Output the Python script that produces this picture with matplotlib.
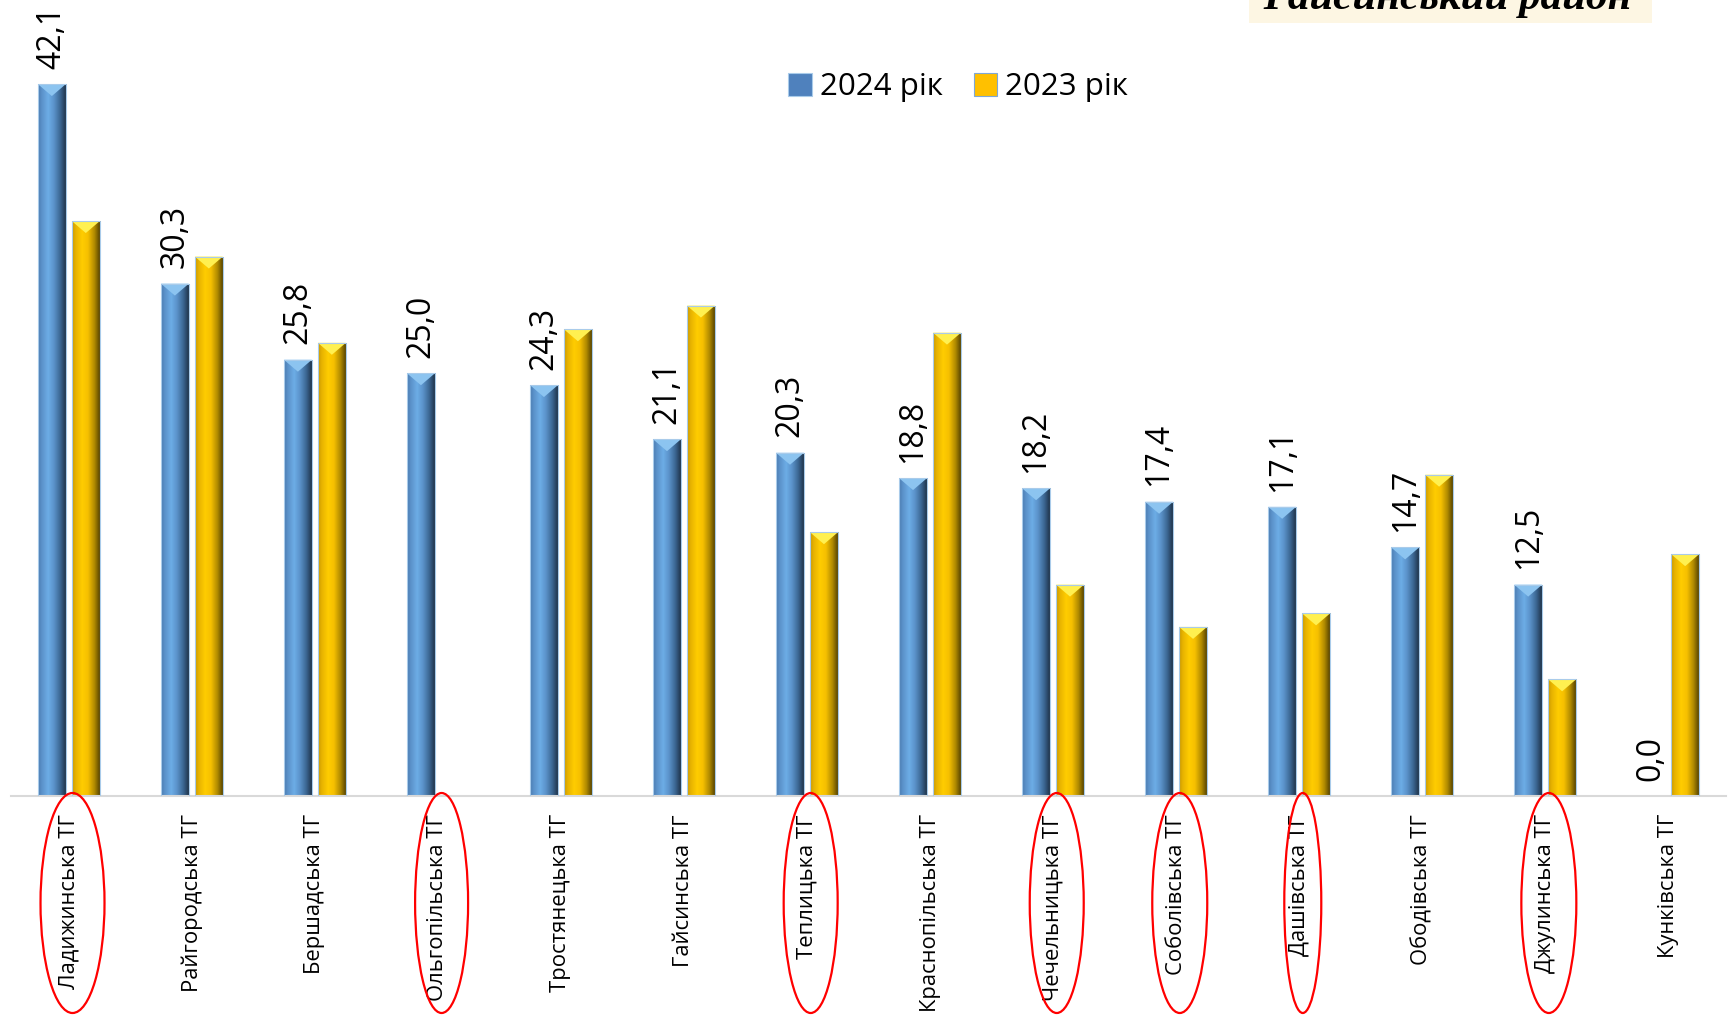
import numpy as np
import matplotlib
matplotlib.use("Agg")
import matplotlib.pyplot as plt
from matplotlib.patches import Ellipse, Polygon, Rectangle, Patch
from matplotlib.colors import to_rgb
from matplotlib.transforms import blended_transform_factory

plt.rcParams['font.family'] = ['Open Sans', 'DejaVu Sans']

# ---------------- data ----------------
categories = ["Ладижинська ТГ", "Райгородська ТГ", "Бершадська ТГ", "Ольгопільська ТГ",
              "Тростянецька ТГ", "Гайсинська ТГ", "Теплицька ТГ", "Краснопільська ТГ",
              "Чечельницька ТГ", "Соболівська ТГ", "Дашівська ТГ", "Ободівська ТГ",
              "Джулинська ТГ", "Кунківська ТГ"]
values_2024 = [42.1, 30.3, 25.8, 25.0, 24.3, 21.1, 20.3, 18.8, 18.2, 17.4, 17.1, 14.7, 12.5, 0.0]
values_2023 = [34.0, 31.9, 26.8, 0.0, 27.6, 29.0, 15.6, 27.4, 12.5, 10.0, 10.8, 19.0, 6.9, 14.3]
series_names = ["2024 рік", "2023 рік"]
circled = ["Ладижинська ТГ", "Ольгопільська ТГ", "Теплицька ТГ", "Чечельницька ТГ",
           "Соболівська ТГ", "Дашівська ТГ", "Джулинська ТГ"]
title_text = "Гайсинський район"

# ---------------- styles ----------------
W, H, DPI = 1729, 1021, 100
ellipse_width_px = {"Ладижинська ТГ": 64, "Ольгопільська ТГ": 53, "Теплицька ТГ": 54,
                    "Чечельницька ТГ": 54, "Соболівська ТГ": 55, "Дашівська ТГ": 37,
                    "Джулинська ТГ": 55}
blue_stops = [(0, '#4A7BB0'), (0.12, '#5A90C8'), (0.35, '#6DADE6'), (0.55, '#5B93CB'),
              (0.78, '#3A6590'), (0.92, '#26405C'), (1, '#1C2C3E')]
yellow_stops = [(0, '#C99700'), (0.12, '#E6B200'), (0.35, '#FFCC00'), (0.55, '#F6C000'),
                (0.78, '#B08A00'), (0.92, '#6E5600'), (1, '#4A3B05')]
blue_top = '#8CC4F0'
yellow_top = '#FFF050'


def gradient(stops, n=96):
    pos = np.array([s[0] for s in stops])
    cols = np.array([to_rgb(s[1]) for s in stops])
    xs = np.linspace(0, 1, n)
    arr = np.stack([np.interp(xs, pos, cols[:, k]) for k in range(3)], axis=-1)
    return arr[np.newaxis, :, :]


fig = plt.figure(figsize=(W / DPI, H / DPI), dpi=DPI)
ax_left, ax_right, ax_base = 11, 1726, 796
ax = fig.add_axes([ax_left / W, (H - ax_base) / H, (ax_right - ax_left) / W, ax_base / H])

x = np.arange(len(categories))
bw = 0.228
off = 0.138
ymax = 47.07

bars24 = ax.bar(x - off, values_2024, bw, color='#5B8FC7', edgecolor='#A9CBEA', linewidth=0.8, zorder=3)
bars23 = ax.bar(x + off, values_2023, bw, color='#FFC000', edgecolor='#A9CBEA', linewidth=0.8, zorder=3)

ax.set_xlim(-0.47, len(categories) - 1 + 0.47)
ax.set_ylim(0, ymax)

px_per_unit = ax_base / ymax
depth = 12 / px_per_unit

for bars, stops, topc in [(bars24, blue_stops, blue_top), (bars23, yellow_stops, yellow_top)]:
    g = gradient(stops)
    for p in bars:
        bx, by, w, h = p.get_x(), p.get_y(), p.get_width(), p.get_height()
        if h <= 0:
            p.set_visible(False)
            continue
        im = ax.imshow(g, extent=[bx, bx + w, by, by + h], aspect='auto',
                       interpolation='bilinear', zorder=2.5)
        im.set_clip_path(p)
        d = min(depth, h)
        tri = Polygon([(bx, h), (bx + w, h), (bx + w / 2, h - d)], closed=True,
                      facecolor=topc, edgecolor='none', zorder=2.7)
        ax.add_patch(tri)
        p.set_facecolor('none')

ax.set_xlim(-0.47, len(categories) - 1 + 0.47)
ax.set_ylim(0, ymax)

# value labels for 2024
for p, v in zip(bars24, values_2024):
    ax.annotate(f"{v:.1f}".replace('.', ','), (p.get_x() + p.get_width() / 2, p.get_height()),
                xytext=(0, 11), textcoords='offset points', rotation=90,
                ha='center', va='bottom', fontsize=23, color='black', zorder=5)

# axes styling
for s in ['top', 'left', 'right']:
    ax.spines[s].set_visible(False)
ax.spines['bottom'].set_color('#D9D9D9')
ax.spines['bottom'].set_linewidth(1.5)
ax.set_yticks([])
ax.set_xticks(x)
ax.set_xticklabels(categories, rotation=90, fontsize=15.8, va='top', ha='center')
ax.tick_params(axis='x', length=0, pad=13)
ax.set_facecolor('none')

# legend
handles = [Patch(facecolor='#4F81BD', edgecolor='#A9CBEA', linewidth=0.8),
           Patch(facecolor='#FFC000', edgecolor='#7FA7D6', linewidth=0.8)]
fig.legend(handles, series_names, loc='center', bbox_to_anchor=(958 / W, 1 - 87 / H),
           ncol=2, frameon=False, fontsize=22.5, handlelength=0.75, handleheight=0.75,
           handletextpad=0.25, columnspacing=1.0)

# red ellipses around selected labels
trans = blended_transform_factory(ax.transData, fig.transFigure)
cat_px = (ax_right - ax_left) / (len(categories) - 1 + 0.94)
for name in circled:
    i = categories.index(name)
    e = Ellipse((i + 0.03, 1 - 903 / H), ellipse_width_px[name] / cat_px, 220 / H,
                transform=trans, facecolor='none', edgecolor='#FF0000', linewidth=1.6)
    fig.add_artist(e)

# title box at top right (cut off, as in the source)
fig.add_artist(Rectangle((1249 / W, 1 - 23 / H), (1652 - 1249) / W, 0.06,
                         transform=fig.transFigure, facecolor='#FDF6E3', edgecolor='none', zorder=0))
fig.text(1448 / W, 1 - 9 / H, title_text, ha='center', va='baseline', fontsize=31,
         fontweight='bold', fontstyle='italic', family=['Liberation Serif', 'DejaVu Serif'],
         color='black')

fig.savefig('out.png', dpi=DPI)
